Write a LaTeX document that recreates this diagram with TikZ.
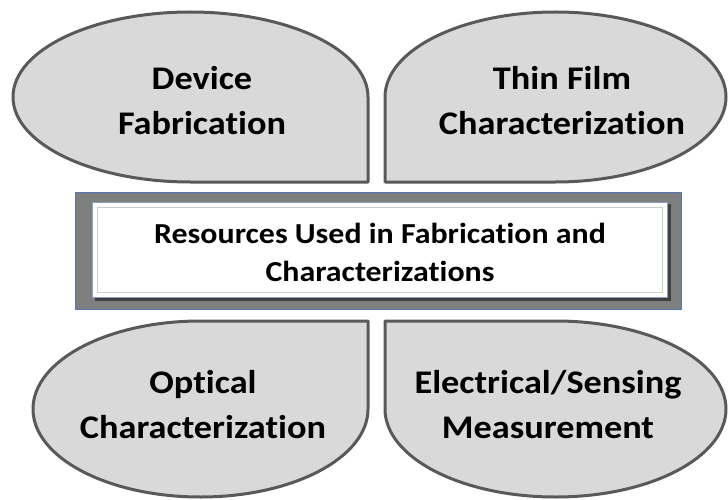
\documentclass[tikz,border=0pt]{standalone}
\usepackage{fontspec}
\setmainfont{Carlito}[Ligatures=NoCommon,FakeStretch=1.1]
\definecolor{leaffill}{RGB}{217,217,217}
\definecolor{leafline}{RGB}{89,89,89}
\definecolor{framegray}{RGB}{127,127,127}
\definecolor{frameblue}{RGB}{84,120,180}

\begin{document}
\begin{tikzpicture}[x=1pt,y=1pt,
  leaf/.style={fill=leaffill,draw=leafline,line width=3pt,line join=round},
  leaftext/.style={align=center,font=\bfseries\fontsize{33}{45}\selectfont},
  hubtext/.style={align=center,font=\bfseries\fontsize{29}{38}\selectfont}]
  \useasboundingbox (0,0) rectangle (728,499);
  % four leaves, square corner towards the middle
  \draw[leaf] (368,402) arc[start angle=0,end angle=180,x radius=177.5,y radius=85]
    arc[start angle=180,end angle=270,x radius=177.5,y radius=85] -- (368,317) -- cycle;
  \draw[leaf] (385,317) -- (385,402) arc[start angle=180,end angle=0,x radius=170.5,y radius=85]
    arc[start angle=0,end angle=-90,x radius=170.5,y radius=85] -- cycle;
  \draw[leaf] (368,178) -- (200.5,178) arc[start angle=90,end angle=180,x radius=167.5,y radius=88]
    arc[start angle=180,end angle=360,x radius=167.5,y radius=88] -- cycle;
  \draw[leaf] (385,178) -- (555.5,178) arc[start angle=90,end angle=0,x radius=170.5,y radius=88]
    arc[start angle=0,end angle=-180,x radius=170.5,y radius=88] -- cycle;
  \node[leaftext] (fab) at (202,398) {Device\\Fabrication};
  \node[leaftext] (film) at (562,398) {Thin Film\\Characterization};
  \node[leaftext] (optic) at (203,94) {Optical\\Characterization};
  \node[leaftext] (elec) at (548,94) {Electrical/Sensing\\Measurement};
  % framed title box
  \draw[frameblue,fill=framegray,line width=0.8pt] (75,190) rectangle (681,307);
  \fill[black!75] (95,198) rectangle (671,295);
  \draw[fill=white,draw=frameblue!70,line width=0.6pt] (92,202) rectangle (667,297);
  \draw[gray!40,line width=1pt] (97,207) rectangle (662,292);
  \node[hubtext] (hub) at (380,247) {Resources Used in Fabrication and\\Characterizations};
\end{tikzpicture}
\end{document}
